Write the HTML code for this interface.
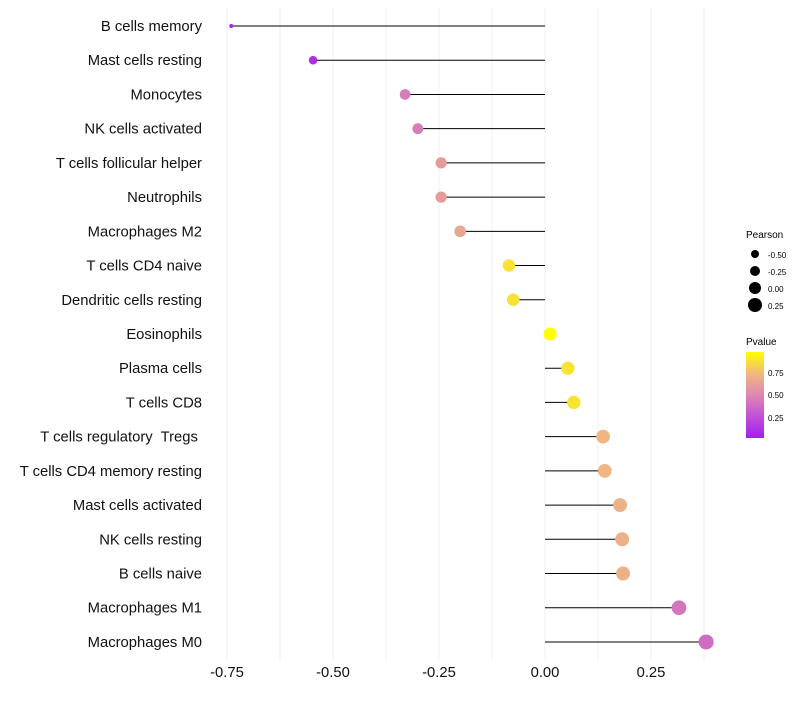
<!DOCTYPE html>
<html><head><meta charset="utf-8"><style>
body{margin:0;background:#fff;}
text{font-family:"Liberation Sans",sans-serif;white-space:pre;}
</style></head><body>
<svg id="chart" width="800" height="700" xmlns="http://www.w3.org/2000/svg">
<defs><linearGradient id="pg" x1="0" y1="1" x2="0" y2="0">
<stop offset="0" stop-color="#a020f0"/><stop offset="0.25" stop-color="#c050d8"/><stop offset="0.5" stop-color="#dc88b0"/><stop offset="0.75" stop-color="#f0b880"/><stop offset="1" stop-color="#ffff00"/></linearGradient></defs>
<g id="grid"></g>
<g id="marks"></g>
<g id="labels"></g>
<g id="xt"></g>
<g>
<text x="746" y="238" font-size="10">Pearson</text>
<circle cx="755" cy="254" r="4" fill="#000"/><text x="768" y="258" font-size="8">-0.50</text>
<circle cx="755" cy="271" r="5" fill="#000"/><text x="768" y="275" font-size="8">-0.25</text>
<circle cx="755" cy="288" r="6" fill="#000"/><text x="768" y="292" font-size="8">0.00</text>
<circle cx="755" cy="305" r="7" fill="#000"/><text x="768" y="309" font-size="8">0.25</text>
</g>
<g>
<text x="746" y="345" font-size="10">Pvalue</text>
<rect x="746" y="352" width="18" height="86" fill="url(#pg)"/>
<text x="768" y="376" font-size="8">0.75</text>
<text x="768" y="398" font-size="8">0.50</text>
<text x="768" y="421" font-size="8">0.25</text>
</g>
</svg>
<script>
const categories=["B cells memory","Mast cells resting","Monocytes","NK cells activated","T cells follicular helper","Neutrophils","Macrophages M2","T cells CD4 naive","Dendritic cells resting","Eosinophils","Plasma cells","T cells CD8","T cells regulatory  Tregs ","T cells CD4 memory resting","Mast cells activated","NK cells resting","B cells naive","Macrophages M1","Macrophages M0"];
const pearson=[-0.74,-0.547,-0.33,-0.30,-0.245,-0.245,-0.20,-0.085,-0.075,0.012,0.054,0.068,0.137,0.141,0.177,0.182,0.184,0.316,0.38];
const pvalue=[0.05,0.1,0.45,0.45,0.6,0.6,0.65,0.87,0.87,0.98,0.88,0.88,0.72,0.72,0.7,0.7,0.7,0.42,0.38];
const xTicks=[-0.75,-0.5,-0.25,0,0.25];
const xTickLabels=["-0.75","-0.50","-0.25","0.00","0.25"];
const NS="http://www.w3.org/2000/svg";
const X=v=>545+v*424;
const Y=i=>26+i*34.22;
function R(v){return 2+5.5*Math.sqrt(Math.max(0,(v+0.74)/1.12));}
const stops=[[0,[160,32,240]],[0.25,[192,80,216]],[0.5,[220,136,176]],[0.75,[240,184,128]],[1,[255,255,0]]];
function col(p){p=Math.max(0,Math.min(1,(p-0.02)/0.95));for(let i=1;i<stops.length;i++){if(p<=stops[i][0]){const a=stops[i-1],b=stops[i],t=(p-a[0])/(b[0]-a[0]);return "rgb("+a[1].map((c,k)=>Math.round(c+(b[1][k]-c)*t)).join(",")+")";}}return "rgb(255,255,0)";}
function mk(t,a,p){const e=document.createElementNS(NS,t);for(const k in a)e.setAttribute(k,a[k]);p.appendChild(e);return e;}
const grid=document.getElementById('grid');
for(let v=-0.75;v<=0.4;v+=0.125){const g=mk('line',{x1:X(v),x2:X(v),y1:8,y2:660,stroke:'#f0f0f0','stroke-width':1},grid);

}
const marks=document.getElementById('marks'),labels=document.getElementById('labels');
categories.forEach((c,i)=>{
const l=mk('line',{x1:X(0),x2:X(pearson[i]),y1:Y(i),y2:Y(i),stroke:'#000','stroke-width':1},marks);


const d=mk('circle',{cx:X(pearson[i]),cy:Y(i),r:R(pearson[i]),fill:col(pvalue[i])},marks);


const t=mk('text',{x:202,y:Y(i)+5,'font-size':14.8,'text-anchor':'end',fill:'#111'},labels);t.textContent=c;


});
const xt=document.getElementById('xt');
xTicks.forEach((v,i)=>{const t=mk('text',{x:X(v),y:677,'font-size':14.8,'text-anchor':'middle',fill:'#111'},xt);t.textContent=xTickLabels[i];

});
</script>
</body></html>
